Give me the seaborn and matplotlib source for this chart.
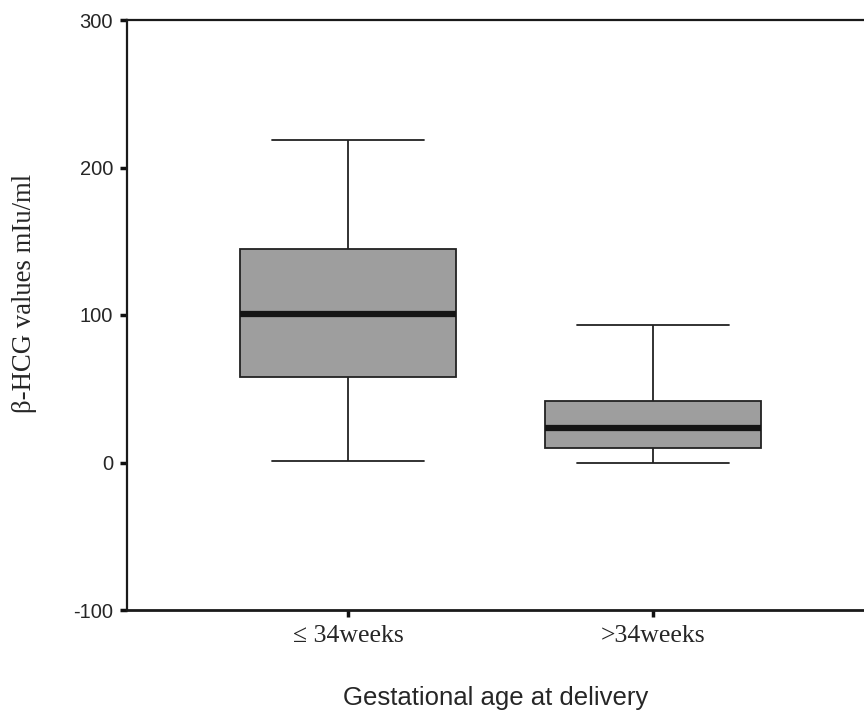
import matplotlib
matplotlib.use("Agg")
import matplotlib.pyplot as plt
import seaborn as sns
import pandas as pd

# Data (five-number summaries per group)
categories = ["\u2264 34weeks", ">34weeks"]
group_le34 = [1.2, 57.8, 100.7, 144.5, 218.8]   # min, Q1, median, Q3, max
group_gt34 = [0.0, 10.0, 23.2, 41.9, 93.2]
y_ticks = [-100, 0, 100, 200, 300]

df = pd.DataFrame({
    "group": [categories[0]] * len(group_le34) + [categories[1]] * len(group_gt34),
    "value": group_le34 + group_gt34,
})

sns.set_style("ticks")
plt.rcParams["font.family"] = ["Liberation Sans", "DejaVu Sans"]

fig = plt.figure(figsize=(8.64, 7.11), dpi=100)
ax = fig.add_axes([127 / 864, 1 - 610 / 711, 1 - 127 / 864, (610 - 20) / 711])

edge = "#222222"
sns.boxplot(
    data=df, x="group", y="value", order=categories, ax=ax,
    color="#9e9e9e", saturation=1, width=0.71, whis=(0, 100),
    linewidth=1.3, linecolor=edge,
    boxprops=dict(edgecolor=edge, linewidth=1.3),
    whiskerprops=dict(color=edge, linewidth=1.3),
    capprops=dict(color=edge, linewidth=1.3),
    medianprops=dict(color="#151515", linewidth=4.5),
    capwidths=0.5,
    showfliers=False,
)

ax.set_xlim(-(348 - 127) / 305, (864 - 348) / 305)
ax.set_ylim(-100, 300)
ax.set_yticks(y_ticks)
ax.set_yticklabels([str(t) for t in y_ticks], fontsize=14.5, family=["Liberation Sans"])
ax.set_xticks(range(len(categories)))
ax.set_xticklabels(categories, fontsize=18.5, family=["Liberation Serif", "DejaVu Serif"])

ax.tick_params(axis="both", direction="out", length=5, width=2.5, color="#111111")
ax.tick_params(axis="y", pad=5)
ax.tick_params(axis="x", pad=6)

for side in ["left", "bottom", "top"]:
    ax.spines[side].set_visible(True)
    ax.spines[side].set_color("#1a1a1a")
ax.spines["left"].set_linewidth(1.6)
ax.spines["bottom"].set_linewidth(2.0)
ax.spines["top"].set_linewidth(1.6)
ax.spines["right"].set_visible(False)

ax.set_ylabel("\u03b2-HCG values mIu/ml", fontsize=19.3, family=["Liberation Serif", "DejaVu Serif"])
ax.yaxis.set_label_coords(-0.122, 0.537)
ax.set_xlabel("Gestational age at delivery", fontsize=18.5, family=["Liberation Sans"], labelpad=28)

fig.savefig("out.png", dpi=100)
